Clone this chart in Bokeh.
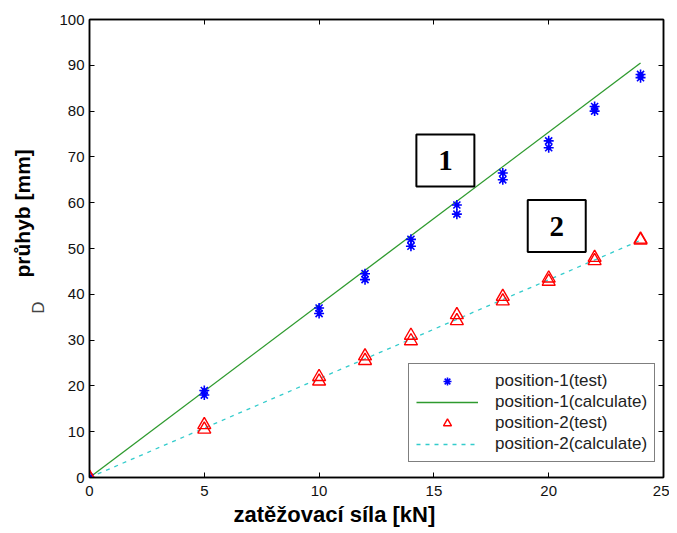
from bokeh.plotting import figure
from bokeh.models import (Range1d, LinearAxis, Legend, LegendItem, FixedTicker, Title)
from bokeh.core.properties import value
from bokeh.embed import file_html
from bokeh.resources import INLINE

# ---- data ----
force = [0, 5, 10, 12, 14, 16, 18, 20, 22, 24]
pos1_test_a = [0, 19.0, 37.0, 44.5, 52.0, 59.5, 66.5, 73.5, 81.0, 88.0]
pos1_test_b = [0, 18.0, 35.8, 43.2, 50.5, 57.5, 65.0, 72.0, 80.0, 87.3]
pos2_test_a = [0, 11.5, 22.0, 26.5, 31.0, 35.5, 39.5, 43.5, 48.0, 52.0]
pos2_test_b = [0, 10.5, 21.0, 25.5, 29.8, 34.2, 38.5, 42.8, 47.3, 51.8]
calc_x = [0, 24]
pos1_calc = [0, 90.5]
pos2_calc = [0, 51.8]
x_ticks = [0, 5, 10, 15, 20, 25]
y_ticks = [0, 10, 20, 30, 40, 50, 60, 70, 80, 90, 100]
box_labels = ["1", "2"]
box_x = [15.5, 20.35]
box_y = [69.2, 54.9]

FONT = "Liberation Sans"

p = figure(frame_width=574, frame_height=458,
           output_backend="svg", toolbar_location=None,
           x_range=Range1d(0, 25), y_range=Range1d(0, 100),
           min_border_left=89, min_border_top=19, min_border_right=6, min_border_bottom=50)
p.background_fill_color = "white"
p.border_fill_color = "white"
p.outline_line_color = "black"
p.outline_line_width = 1.5
p.xgrid.visible = False
p.ygrid.visible = False

for ax in (p.xaxis[0], p.yaxis[0]):
    ax.major_tick_in = 5
    ax.major_tick_out = 0
    ax.minor_tick_in = 0
    ax.minor_tick_out = 0
    ax.axis_line_color = "black"
    ax.axis_line_width = 1.5
    ax.major_tick_line_color = "black"
    ax.major_label_text_font = FONT
    ax.major_label_text_font_size = "15px"
    ax.major_label_text_color = "#111111"

p.xaxis[0].ticker = FixedTicker(ticks=x_ticks)
p.yaxis[0].ticker = FixedTicker(ticks=y_ticks)
p.xaxis[0].major_label_standoff = 8
p.yaxis[0].major_label_standoff = 5

# stray "D" beside the y label (axis label, pushed down with no-break spaces)
p.yaxis[0].axis_label = "D" + "\u00a0" * 25
p.yaxis[0].axis_label_text_font = FONT
p.yaxis[0].axis_label_text_font_size = "17px"
p.yaxis[0].axis_label_text_font_style = "normal"
p.yaxis[0].axis_label_text_color = "#444444"
p.yaxis[0].axis_label_standoff = 8

# y label and x label as titles
p.add_layout(Title(text="průhyb [mm]", align="left", offset=200, text_font=FONT,
                   text_font_size="21px", text_font_style="bold",
                   text_color="black", standoff=-14), "left")
p.add_layout(Title(text="zatěžovací síla [kN]", align="left", offset=144, text_font=FONT,
                   text_font_size="22px", text_font_style="bold",
                   text_color="black", standoff=3), "below")

# right / top axes with inward ticks, no labels
r_ax = LinearAxis(ticker=FixedTicker(ticks=y_ticks), major_label_text_font_size="0px",
                  major_tick_in=5, major_tick_out=0, minor_tick_in=0, minor_tick_out=0,
                  axis_line_color="black", axis_line_width=1.5)
t_ax = LinearAxis(ticker=FixedTicker(ticks=x_ticks), major_label_text_font_size="0px",
                  major_tick_in=5, major_tick_out=0, minor_tick_in=0, minor_tick_out=0,
                  axis_line_color="black", axis_line_width=1.5)
p.add_layout(r_ax, "right")
p.add_layout(t_ax, "above")

# ---- glyphs ----
l1 = p.line(calc_x, pos1_calc, line_color="#2e9a2e", line_width=1.3)
l2 = p.line(calc_x, pos2_calc, line_color="#33cccc", line_width=1.3, line_dash="4 5")
s1a = p.scatter(force, pos1_test_a, marker="asterisk", size=10, line_color="blue", line_width=1.6)
s1b = p.scatter(force, pos1_test_b, marker="asterisk", size=10, line_color="blue", line_width=1.6)
p.scatter(force, pos1_test_a, marker="circle", size=4, fill_color="blue", line_color="blue")
p.scatter(force, pos1_test_b, marker="circle", size=4, fill_color="blue", line_color="blue")
s2a = p.scatter(force, pos2_test_a, marker="triangle", size=13, fill_color=None,
                line_color="red", line_width=1.4)
s2b = p.scatter(force, pos2_test_b, marker="triangle", size=13, fill_color=None,
                line_color="red", line_width=1.4)

# ---- annotation boxes ----
p.rect(x=box_x, y=box_y, width=58, height=52, width_units="screen", height_units="screen",
       fill_color="white", line_color="black", line_width=2)
p.text(x=box_x, y=box_y, text=box_labels, text_align="center", text_baseline="middle",
       text_font=value("Liberation Serif"), text_font_size="29px",
       text_font_style="bold", text_color="black")

# ---- legend ----
legend = Legend(items=[
    LegendItem(label="position-1(test)", renderers=[s1a]),
    LegendItem(label="position-1(calculate)", renderers=[l1]),
    LegendItem(label="position-2(test)", renderers=[s2a]),
    LegendItem(label="position-2(calculate)", renderers=[l2]),
], location=(319, 15))
legend.glyph_width = 62
legend.glyph_height = 20
legend.label_height = 20
legend.spacing = 1
legend.padding = 7
legend.margin = 0
legend.label_standoff = 17
legend.label_text_font = FONT
legend.label_text_font_size = "17px"
legend.label_text_color = "#222222"
legend.border_line_color = "black"
legend.border_line_width = 1
legend.background_fill_alpha = 1.0
p.add_layout(legend, "center")

open("out.html", "w").write(file_html(p, INLINE))
